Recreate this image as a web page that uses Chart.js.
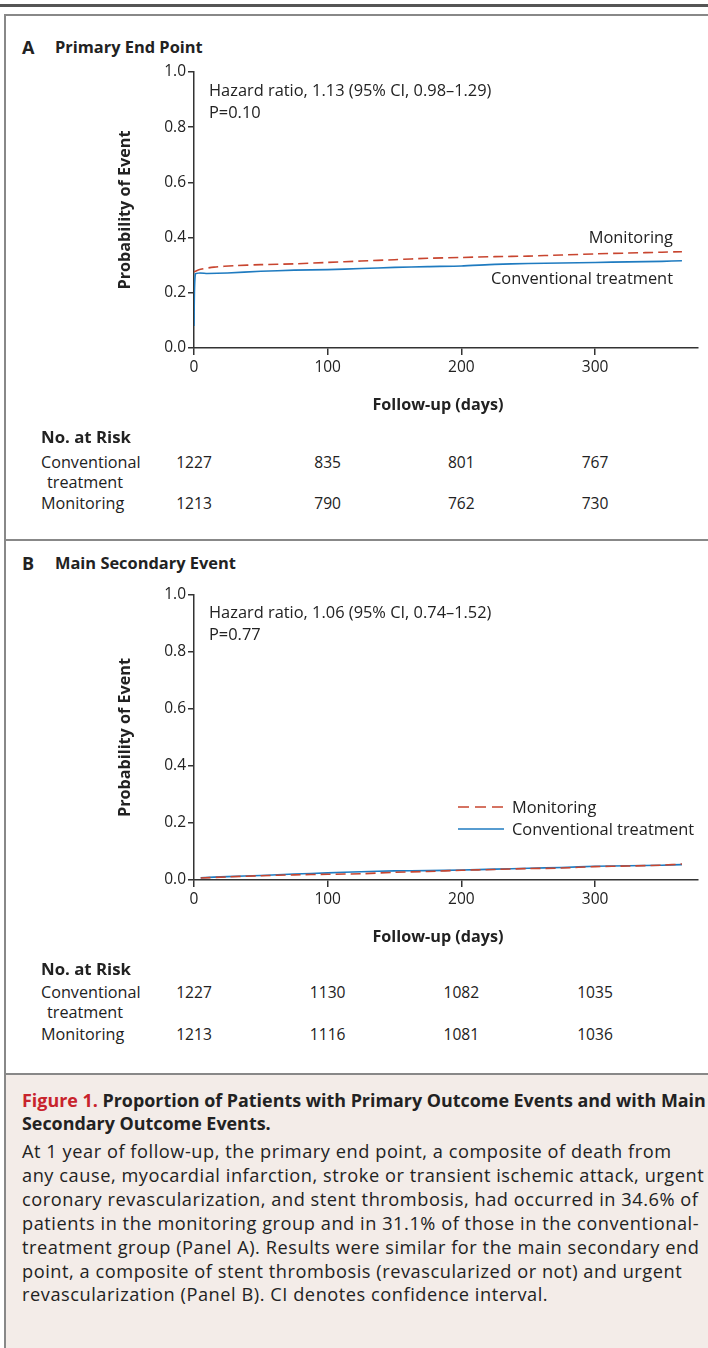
<!DOCTYPE html>
<html>
<head>
<meta charset="utf-8">
<script src="https://cdn.jsdelivr.net/npm/chart.js@4"></script>
<style>
  html, body { margin: 0; padding: 0; }
  body { width: 708px; height: 1348px; overflow: hidden; position: relative; background: #fff;
         font-family: "Open Sans", "Noto Sans", sans-serif; color: #222; }
  .abs { position: absolute; white-space: nowrap; line-height: 22px; }
  .rule { position: absolute; left: 0; top: 4px; width: 708px; height: 3px; background: #555; }
  .frame { position: absolute; left: 4px; top: 14px; width: 720px; height: 1400px;
           border-left: 2px solid #888; border-top: 2px solid #888; }
  .sep { position: absolute; left: 4px; width: 708px; height: 2px; background: #888; }
  .panel { font-size: 16.4px; font-weight: bold; }
  .letter { font-size: 18px; font-weight: bold; }
  .note { font-size: 16.4px; }
  .axt { font-size: 16.2px; font-weight: bold; width: 200px; margin-left: -100px; text-align: center; }
  .risk { font-size: 16.2px; }
  .riskhead { font-size: 16.8px; font-weight: bold; }
  .num { position: absolute; width: 60px; margin-left: -30px; text-align: center; font-size: 15.6px; line-height: 22px; }
  canvas { position: absolute; }
  .caption { position: absolute; left: 6px; top: 1073px; width: 720px; height: 300px;
             background: #f3ece8; border-top: 2px solid #888; }
  .captitle { position: absolute; left: 22px; top: 1089px; font-size: 17.9px; white-space: nowrap;
              font-weight: bold; line-height: 22.5px; }
  .captitle span { color: #c8232c; }
  .capbody { position: absolute; left: 22px; top: 1140px; font-size: 18.2px; letter-spacing: 0.55px;
             white-space: nowrap; line-height: 23.9px; }
</style>
</head>
<body>
<div class="rule"></div>
<div class="frame"></div>

<div class="abs letter" style="left:22px; top:36px;">A</div>
<div class="abs panel" style="left:55px; top:36px;">Primary End Point</div>
<canvas id="chartA" width="608" height="390" style="left:100px; top:40px; width:608px; height:390px;"></canvas>
<div class="abs note" style="left:209px; top:79px;">Hazard ratio, 1.13 (95% CI, 0.98–1.29)<br>P=0.10</div>
<div class="abs note" style="right:35px; top:226px;">Monitoring</div>
<div class="abs note" style="right:35px; top:267px;">Conventional treatment</div>
<div class="abs axt" style="left:438px; top:393px;">Follow-up (days)</div>

<div class="abs riskhead" style="left:41px; top:426px;">No. at Risk</div>
<div class="abs risk" style="left:41px; top:451px;">Conventional</div>
<div class="abs risk" style="left:47px; top:471px;">treatment</div>
<div class="abs risk" style="left:41px; top:492px;">Monitoring</div>
<div id="riskA"></div>

<div class="sep" style="top:539px;"></div>

<div class="abs letter" style="left:22px; top:552px;">B</div>
<div class="abs panel" style="left:55px; top:552px;">Main Secondary Event</div>
<canvas id="chartB" width="608" height="399" style="left:100px; top:563px; width:608px; height:399px;"></canvas>
<div class="abs note" style="left:209px; top:601px;">Hazard ratio, 1.06 (95% CI, 0.74–1.52)<br>P=0.77</div>
<svg style="position:absolute; left:458px; top:802px;" width="46" height="10">
  <line x1="0" y1="5" x2="46" y2="5" stroke="#c8452f" stroke-width="1.6" stroke-dasharray="11 6"/>
</svg>
<div class="abs note" style="left:512px; top:796px;">Monitoring</div>
<svg style="position:absolute; left:458px; top:824px;" width="46" height="10">
  <line x1="0" y1="5" x2="46" y2="5" stroke="#1f7bc0" stroke-width="1.6"/>
</svg>
<div class="abs note" style="left:512px; top:818px;">Conventional treatment</div>
<div class="abs axt" style="left:438px; top:925px;">Follow-up (days)</div>

<div class="abs riskhead" style="left:41px; top:958px;">No. at Risk</div>
<div class="abs risk" style="left:41px; top:981px;">Conventional</div>
<div class="abs risk" style="left:47px; top:1001px;">treatment</div>
<div class="abs risk" style="left:41px; top:1023px;">Monitoring</div>
<div id="riskB"></div>

<div class="caption"></div>
<div class="captitle"><span>Figure 1.</span> Proportion of Patients with Primary Outcome Events and with Main<br>Secondary Outcome Events.</div>
<div class="capbody">At 1 year of follow-up, the primary end point, a composite of death from<br>any cause, myocardial infarction, stroke or transient ischemic attack, urgent<br>coronary revascularization, and stent thrombosis, had occurred in 34.6% of<br>patients in the monitoring group and in 31.1% of those in the conventional-<br>treatment group (Panel A). Results were similar for the main secondary end<br>point, a composite of stent thrombosis (revascularized or not) and urgent<br>revascularization (Panel B). CI denotes confidence interval.</div>

<script>
// Panel A: primary end point
const daysConvA = [0, 1, 10, 25, 50, 75, 100, 125, 150, 175, 200, 225, 250, 275, 300, 325, 350, 365];
const convA = [0.08, 0.268, 0.27, 0.272, 0.278, 0.282, 0.284, 0.288, 0.292, 0.295, 0.297, 0.303, 0.306, 0.308, 0.31, 0.312, 0.314, 0.316];
const daysMonA = [0, 5, 15, 30, 50, 75, 100, 125, 150, 175, 200, 225, 250, 275, 300, 325, 350, 365];
const monA = [0.276, 0.285, 0.293, 0.298, 0.302, 0.305, 0.31, 0.315, 0.32, 0.325, 0.328, 0.331, 0.333, 0.337, 0.341, 0.344, 0.347, 0.349];

// Panel B: main secondary event
const daysB = [5, 25, 50, 75, 100, 125, 150, 175, 200, 225, 250, 275, 300, 325, 350, 365];
const convB = [0.008, 0.012, 0.016, 0.021, 0.025, 0.029, 0.032, 0.033, 0.035, 0.038, 0.041, 0.044, 0.048, 0.05, 0.052, 0.054];
const monB = [0.007, 0.011, 0.015, 0.018, 0.02, 0.022, 0.027, 0.03, 0.034, 0.037, 0.04, 0.042, 0.047, 0.049, 0.052, 0.056];

// numbers at risk
const riskDays = [0, 100, 200, 300];
const riskConvA = [1227, 835, 801, 767];
const riskMonA = [1213, 790, 762, 730];
const riskConvB = [1227, 1130, 1082, 1035];
const riskMonB = [1213, 1116, 1081, 1036];

const xTicks = [0, 100, 200, 300];
const yTicks = [0, 0.2, 0.4, 0.6, 0.8, 1.0];

const RED = '#c8452f';
const BLUE = '#1f7bc0';
const AXIS = '#333';
const FONT = 'Open Sans';

function pts(xs, ys) {
    return xs.map((x, i) => ({ x: x, y: ys[i] }));
}

function makeChart(id, conv, mon) {
    const ctx = document.getElementById(id);
    return new Chart(ctx, {
        type: 'line',
        data: {
            datasets: [{
                label: 'Monitoring',
                data: mon,
                borderColor: RED,
                borderWidth: 1.6,
                borderDash: [10, 5],
                pointRadius: 0,
                tension: 0.3,
                fill: false
            }, {
                label: 'Conventional treatment',
                data: conv,
                borderColor: BLUE,
                borderWidth: 1.6,
                pointRadius: 0,
                tension: 0.2,
                fill: false
            }]
        },
        options: {
            responsive: false,
            animation: false,
            layout: { padding: { left: 0, top: 32, right: 10, bottom: 0 } },
            plugins: { legend: { display: false }, tooltip: { enabled: false } },
            scales: {
                x: {
                    type: 'linear',
                    min: 0,
                    max: 377,
                    afterBuildTicks: s => { s.ticks = xTicks.map(v => ({ value: v })); },
                    afterFit: s => { s.height = 82; },
                    grid: { drawOnChartArea: false, drawTicks: true, tickLength: 7, color: AXIS, lineWidth: 1.5 },
                    border: { color: AXIS, width: 1.5 },
                    ticks: { color: '#222', padding: 3, maxRotation: 0, font: { family: FONT, size: 15.5 } }
                },
                y: {
                    min: 0,
                    max: 1,
                    afterBuildTicks: s => { s.ticks = yTicks.map(v => ({ value: v })); },
                    afterFit: s => { s.width = 94; },
                    grid: { drawOnChartArea: false, drawTicks: true, tickLength: 6, color: AXIS, lineWidth: 1.5 },
                    border: { color: AXIS, width: 1.5 },
                    ticks: { color: '#222', padding: 2, font: { family: FONT, size: 15.5 },
                             callback: v => v.toFixed(1) },
                    title: { display: true, text: 'Probability of Event', color: '#222', padding: { top: 16, bottom: 0 },
                             font: { family: FONT, size: 16.2, weight: 'bold' } }
                }
            }
        }
    });
}

makeChart('chartA', pts(daysConvA, convA), pts(daysMonA, monA));
makeChart('chartB', pts(daysB, convB), pts(daysB, monB));

// numbers at risk aligned to the x ticks
const pxPerDay = (595 - 194) / 300;
function riskRow(el, values, top) {
    values.forEach((v, i) => {
        const d = document.createElement('div');
        d.className = 'num';
        d.style.left = (194 + riskDays[i] * pxPerDay) + 'px';
        d.style.top = top + 'px';
        d.textContent = v;
        el.appendChild(d);
    });
}
riskRow(document.getElementById('riskA'), riskConvA, 451);
riskRow(document.getElementById('riskA'), riskMonA, 492);
riskRow(document.getElementById('riskB'), riskConvB, 981);
riskRow(document.getElementById('riskB'), riskMonB, 1023);
</script>
</body>
</html>
